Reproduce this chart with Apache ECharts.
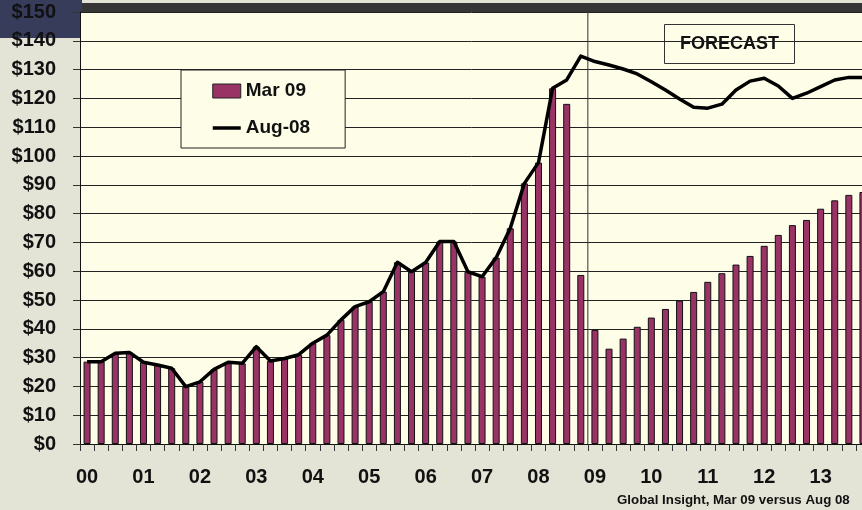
<!DOCTYPE html>
<html lang="en">
<head>
    <meta charset="UTF-8">
    <title>Forecast chart</title>
    <script src="https://cdn.jsdelivr.net/npm/echarts@6/dist/echarts.min.js"></script>
    <style>
        html, body { margin: 0; padding: 0; background: #e3e3d6; }
        #chart { width: 862px; height: 510px; }
    </style>
</head>
<body>
<div id="chart"></div>
<script>
    'use strict';
    // year tick labels, one label per year (first quarter)
    let years = ['00', '01', '02', '03', '04', '05', '06', '07', '08', '09', '10', '11', '12', '13'];
    let quarters = ['Q1', 'Q2', 'Q3', 'Q4'];
    let categories = [];
    years.forEach(function (y) {
        quarters.forEach(function (q) { categories.push(y + q); });
    });

    // Mar 09 (bars), quarterly
    let mar09 = [
        28.6, 28.6, 31.5, 31.8,
        28.4, 27.4, 26.3, 19.9,
        21.6, 25.9, 28.4, 28.0,
        33.8, 28.8, 29.7, 31.0,
        35.0, 37.8, 43.1, 47.7,
        49.4, 52.9, 63.1, 59.8,
        63.0, 70.3, 70.3, 59.8,
        58.1, 64.7, 74.9, 90.5,
        97.7, 123.5, 118.1, 58.7,
        39.6, 33.1, 36.6, 40.7,
        43.9, 46.9, 49.8, 52.8,
        56.3, 59.3, 62.3, 65.3,
        68.8, 72.6, 76.0, 77.8,
        81.7, 84.6, 86.5, 87.5
    ];

    // Aug-08 (line), quarterly
    let aug08 = [
        28.6, 28.6, 31.5, 31.8,
        28.4, 27.4, 26.3, 19.9,
        21.6, 25.9, 28.4, 28.0,
        33.8, 28.8, 29.7, 31.0,
        35.0, 37.8, 43.1, 47.7,
        49.4, 52.9, 63.1, 59.8,
        63.0, 70.3, 70.3, 59.8,
        58.1, 64.7, 74.9, 90.5,
        97.7, 123.5, 126.4, 134.7,
        132.8, 131.6, 130.2, 128.5,
        125.8, 122.9, 119.8, 116.9,
        116.6, 118.0, 122.9, 126.0,
        127.0, 124.3, 120.0, 121.8,
        124.1, 126.4, 127.3, 127.3
    ];

    // forecast starts after this many quarters
    let forecastStart = 36;

    let font = "'Liberation Sans', Arial, sans-serif";
    let chart = echarts.init(document.getElementById('chart'));

    let option = {
        backgroundColor: '#e3e3d6',
        animation: false,
        textStyle: { fontFamily: font },
        title: {
            text: 'Global Insight, Mar 09 versus Aug 08',
            left: 617,
            top: 494,
            padding: 0,
            textStyle: { fontSize: 13.3, fontWeight: 'bold', color: '#111', fontFamily: font }
        },
        legend: {
            data: [
                { name: 'Mar 09', icon: 'rect', itemStyle: { color: '#993366', borderColor: '#222', borderWidth: 1 } },
                { name: 'Aug-08', itemStyle: { opacity: 0 }, lineStyle: { width: 3.5, color: '#000' } }
            ],
            orient: 'vertical',
            left: 181,
            top: 70,
            width: 163,
            padding: [11, 35, 10, 30],
            itemGap: 17,
            itemWidth: 28,
            itemHeight: 14,
            backgroundColor: '#fefde8',
            borderColor: '#222',
            borderWidth: 1,
            borderRadius: 0,
            textStyle: { fontSize: 19, fontWeight: 'bold', color: '#111', fontFamily: font, lineHeight: 20 }
        },
        grid: {
            left: 80,
            top: 12,
            width: 790,
            height: 432,
            outerBoundsMode: 'none',
            show: true,
            backgroundColor: '#fefde8',
            borderWidth: 0
        },
        xAxis: [{
            type: 'category',
            data: categories,
            boundaryGap: true,
            axisLine: { lineStyle: { color: '#111', width: 1 } },
            axisTick: { show: true, interval: 0, length: 7, lineStyle: { color: '#333' } },
            axisLabel: {
                interval: function (index) { return index % 4 === 0; },
                formatter: function (v) { return v.slice(0, 2); },
                margin: 23,
                fontSize: 20,
                fontWeight: 'bold',
                color: '#111'
            },
            splitLine: { show: false }
        }, {
            type: 'value',
            min: 0,
            max: categories.length,
            show: false
        }],
        yAxis: {
            type: 'value',
            min: 0,
            max: 150,
            interval: 10,
            axisLine: { show: true, lineStyle: { color: '#111', width: 1 } },
            axisTick: { show: true, length: 7, lineStyle: { color: '#333' } },
            axisLabel: {
                formatter: function (v) { return '$' + v; },
                margin: 24,
                fontSize: 20,
                fontWeight: 'bold',
                color: '#111'
            },
            splitLine: { show: true, lineStyle: { color: '#222', width: 1 } }
        },
        series: [{
            name: 'Mar 09',
            type: 'bar',
            data: mar09,
            barWidth: 7,
            itemStyle: { color: '#993366', borderColor: '#111', borderWidth: 1 }
        }, {
            name: 'Aug-08',
            type: 'line',
            data: aug08,
            symbol: 'none',
            smooth: false,
            lineStyle: { color: '#000', width: 3.5, join: 'round' },
            itemStyle: { color: '#000' }
        }, {
            name: 'divider',
            type: 'line',
            xAxisIndex: 1,
            data: [[forecastStart, 0], [forecastStart, 150]],
            symbol: 'none',
            silent: true,
            lineStyle: { color: '#333', width: 1 },
            z: 1
        }],
        graphic: [{
            type: 'rect',
            z: -5,
            shape: { x: 0, y: 3, width: 862, height: 9 },
            style: { fill: '#363636' }
        }, {
            type: 'rect',
            z: -4,
            shape: { x: 0, y: 0, width: 82, height: 38 },
            style: { fill: '#363c5a' }
        }, {
            type: 'group',
            left: 664,
            top: 24,
            z: 10,
            children: [{
                type: 'rect',
                shape: { x: 0, y: 0, width: 130, height: 39 },
                style: { fill: '#fefde8', stroke: '#333', lineWidth: 1 }
            }, {
                type: 'text',
                x: 65,
                y: 20,
                style: {
                    text: 'FORECAST',
                    font: 'bold 18px ' + font,
                    fill: '#111',
                    align: 'center',
                    verticalAlign: 'middle'
                }
            }]
        }]
    };

    chart.setOption(option);
</script>
</body>
</html>
